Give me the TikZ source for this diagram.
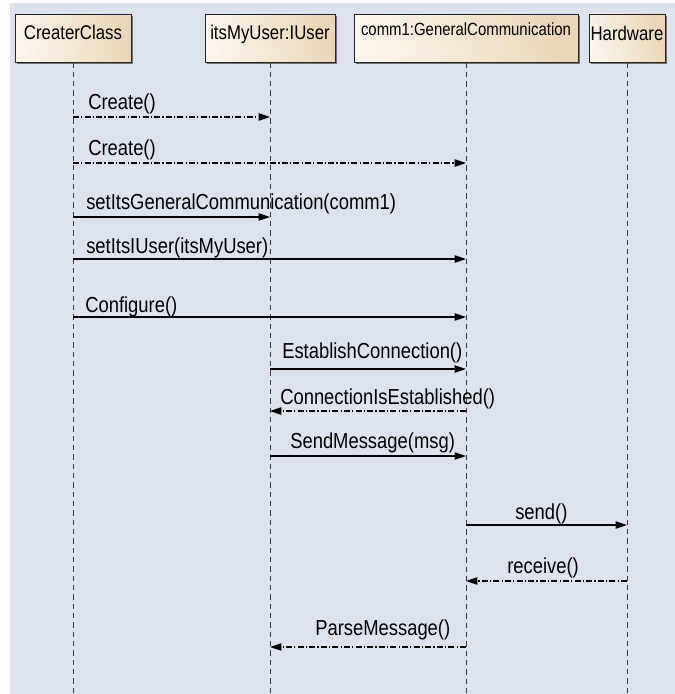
\documentclass[tikz,border=0pt]{standalone}
\usepackage{fontspec}
\setmainfont{Liberation Sans}
\usetikzlibrary{arrows.meta,shadows}

\definecolor{canvasblue}{HTML}{DCE2EE}
\definecolor{boxlight}{HTML}{FBF5EA}
\definecolor{boxdark}{HTML}{EAD6B6}
\definecolor{lifegray}{HTML}{3A3A3A}

% slightly tall lettering, as in the modelling tool's export
\newcommand\tallText[1]{\scalebox{1}[1.18]{#1}}

\tikzset{
  objbox/.style={draw=black!85, line width=0.7pt, left color=boxlight, right color=boxdark,
    shading angle=110, inner xsep=0pt, inner ysep=0pt, anchor=base,
    drop shadow={shadow xshift=1.6pt, shadow yshift=-1.6pt, fill=black!55, opacity=1}},
  objname/.style={font=\fontsize{12.6}{14}\selectfont},
  lifeline/.style={draw=lifegray, line width=0.7pt, dash pattern=on 4pt off 3pt},
  call/.style={draw=black, line width=0.8pt, -{Triangle[length=8.5pt,width=5.5pt]}},
  reply/.style={call, dash pattern=on 4.5pt off 1.6pt on 1pt off 1.6pt},
  msglabel/.style={font=\fontsize{13.8}{16}\selectfont, inner sep=0pt, anchor=west},
}

\begin{document}
\begin{tikzpicture}[x=0.75pt,y=-0.75pt]
\useasboundingbox (0,0) rectangle (675,694);
\fill[white] (0,0) rectangle (675,694);
\fill[canvasblue] (10,3) rectangle (675,694);

% object heads (baseline placed so the name sits in the upper part of each box)
\node[objbox, objname, minimum width=87pt, text height=18.75pt, text depth=17.25pt]
  (cc) at (73,39) {\tallText{CreaterClass}};
\node[objbox, objname, minimum width=97.5pt, text height=18.75pt, text depth=17.25pt]
  (iu) at (270,39) {\tallText{itsMyUser:IUser}};
\node[objbox, font=\fontsize{11.2}{13}\selectfont, minimum width=168pt, text height=16.1pt, text depth=19.9pt]
  (gc) at (466,35.5) {\tallText{comm1:GeneralCommunication}};
\node[objbox, objname, minimum width=57pt, text height=19.9pt, text depth=16.1pt]
  (hw) at (627,40.5) {\tallText{Hardware}};

% lifelines
\coordinate (ccEnd) at (cc.south |- 0,694);
\coordinate (iuEnd) at (iu.south |- 0,694);
\coordinate (gcEnd) at (gc.south |- 0,694);
\coordinate (hwEnd) at (hw.south |- 0,694);
\draw[lifeline] (cc.south) -- (ccEnd);
\draw[lifeline] (iu.south) -- (iuEnd);
\draw[lifeline] (gc.south) -- (gcEnd);
\draw[lifeline] (hw.south) -- (hwEnd);

% messages
\draw[reply] (cc.south |- 0,117) -- (iu.south |- 0,117);
\node[msglabel] (m1) at (88,104) {\tallText{Create()}};

\draw[reply] (cc.south |- 0,163) -- (gc.south |- 0,163);
\node[msglabel] (m2) at (88,150) {\tallText{Create()}};

\draw[call] (cc.south |- 0,217) -- (iu.south |- 0,217);
\node[msglabel] (m3) at (86,203.5) {\tallText{setItsGeneralCommunication(comm1)}};

\draw[call] (cc.south |- 0,259) -- (gc.south |- 0,259);
\node[msglabel] (m4) at (86,247.5) {\tallText{setItsIUser(itsMyUser)}};

\draw[call] (cc.south |- 0,317) -- (gc.south |- 0,317);
\node[msglabel] (m5) at (85,306.5) {\tallText{Configure()}};

\draw[call] (iu.south |- 0,369) -- (gc.south |- 0,369);
\node[msglabel] (m6) at (282,352.5) {\tallText{EstablishConnection()}};

\draw[reply] (gc.south |- 0,411) -- (iu.south |- 0,411);
\node[msglabel] (m7) at (280,399) {\tallText{ConnectionIsEstablished()}};

\draw[call] (iu.south |- 0,456) -- (gc.south |- 0,456);
\node[msglabel] (m8) at (290,443) {\tallText{SendMessage(msg)}};

\draw[call] (gc.south |- 0,525) -- (hw.south |- 0,525);
\node[msglabel] (m9) at (515,514) {\tallText{send()}};

\draw[reply] (hw.south |- 0,581) -- (gc.south |- 0,581);
\node[msglabel] (m10) at (507,567.5) {\tallText{receive()}};

\draw[reply] (gc.south |- 0,647) -- (iu.south |- 0,647);
\node[msglabel] (m11) at (315,630) {\tallText{ParseMessage()}};
\end{tikzpicture}
\end{document}
